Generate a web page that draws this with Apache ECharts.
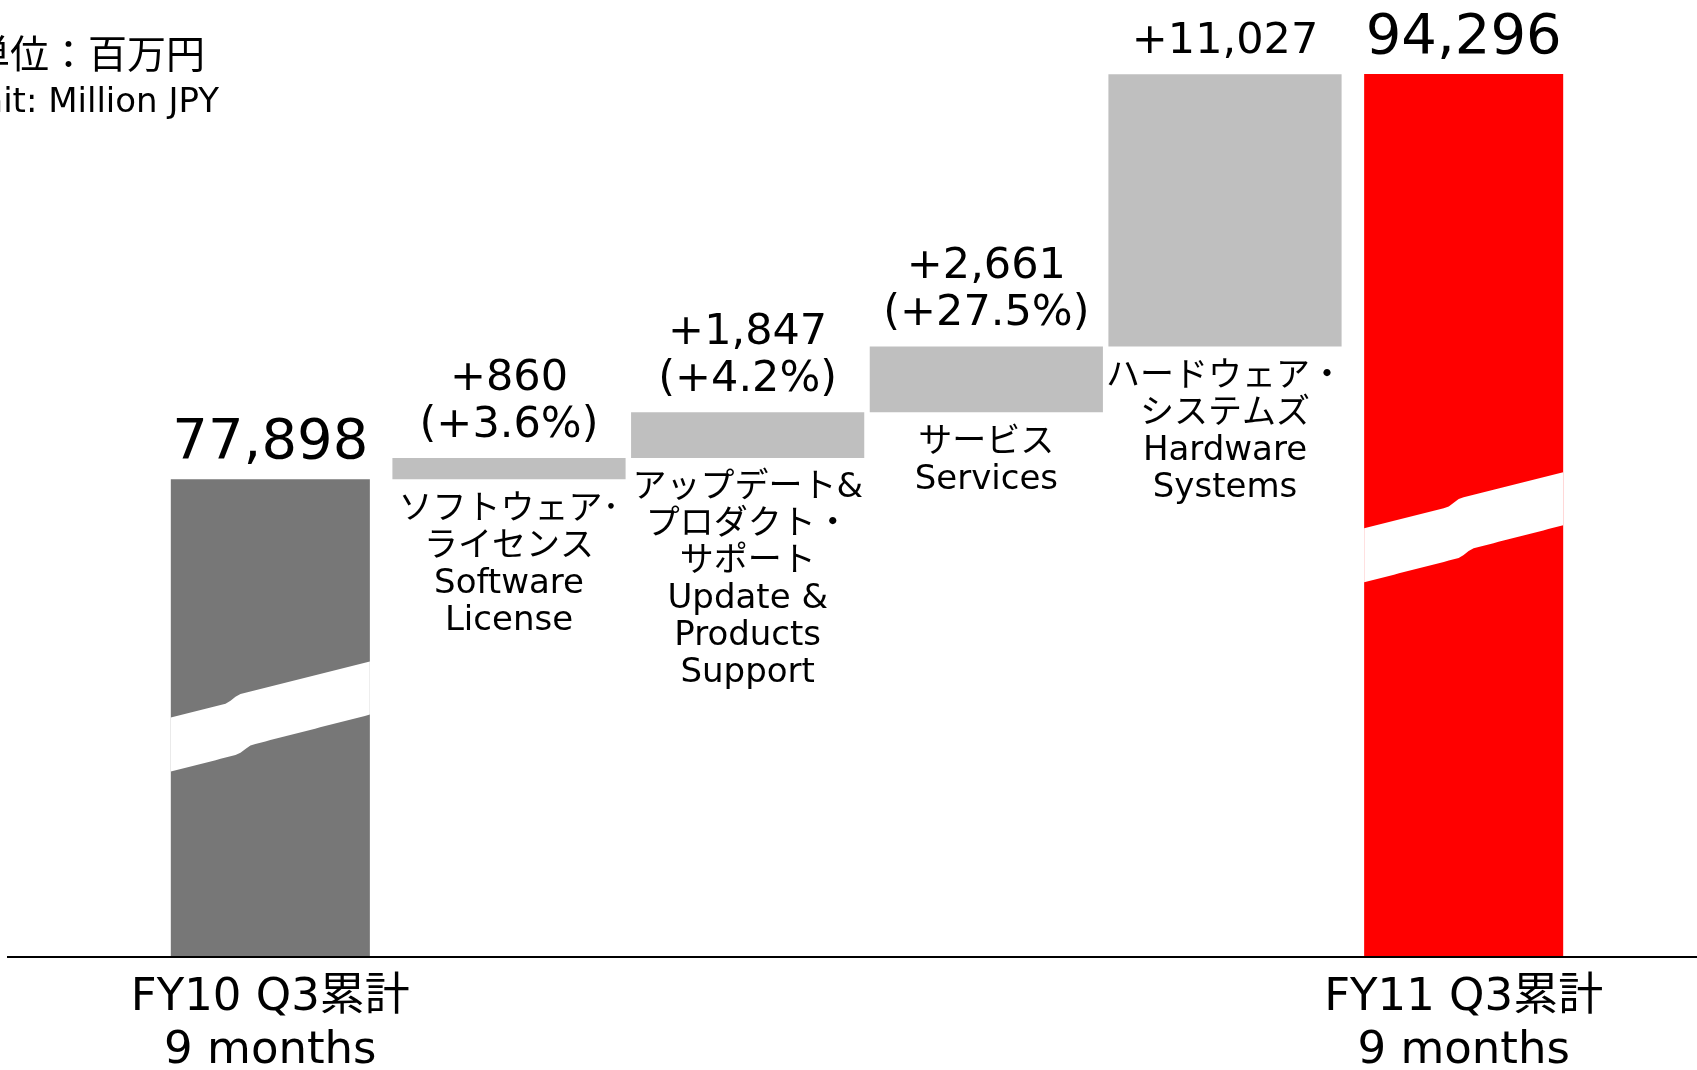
<!DOCTYPE html>
<html>
<head>
<meta charset="utf-8">
<script src="https://cdn.jsdelivr.net/npm/echarts@6.0.0/dist/echarts.min.js"></script>
<style>
  html, body { margin: 0; padding: 0; background: #fff; }
  #main { width: 1697px; height: 1070px; }
</style>
</head>
<body>
<div id="main"></div>
<script>
// 単位：百万円
const categories = [
  'FY10 Q3累計\n9 months',
  'ソフトウェア･\nライセンス\nSoftware\nLicense',
  'アップデート&\nプロダクト・\nサポート\nUpdate &\nProducts\nSupport',
  'サービス\nServices',
  'ハードウェア・\nシステムズ\nHardware\nSystems',
  'FY11 Q3累計\n9 months'
];
const kinds = ['total', 'delta', 'delta', 'delta', 'delta', 'total'];
const values = [77898, 860, 1847, 2661, 11027, 94296];
const growth = ['', '+3.6%', '+4.2%', '+27.5%', '', ''];

const yMin = 58600, yMax = 96000;
const FONT = "'DejaVu Sans', 'Noto Sans CJK JP', sans-serif";
const barColors = ['#777777', '#BFBFBF', '#BFBFBF', '#BFBFBF', '#BFBFBF', '#FF0000'];
// break position (fraction of bar height from top, kink position along bar)
const breaks = { 0: [0.50, 0.31], 5: [0.515, 0.45] };

// waterfall ranges
let run = values[0];
const seriesData = values.map(function (v, i) {
  if (kinds[i] === 'total') return [i, yMin, v];
  const lo = run;
  run += v;
  return [i, lo, run];
});

function fmt(v) { return v.toLocaleString('en-US'); }

function smooth(u) {
  u = Math.max(0, Math.min(1, u));
  return u * u * (3 - 2 * u);
}

function edge(x, w, yL, kink, rise, step) {
  const pts = [];
  for (let k = 0; k <= 40; k++) {
    const t = k / 40;
    pts.push([x + t * w, yL - (rise - step) * t - step * smooth((t - kink) / 0.08 + 0.5)]);
  }
  return pts;
}

function renderItem(params, api) {
  const i = params.dataIndex;
  const p0 = api.coord([api.value(0), api.value(1)]);
  const p1 = api.coord([api.value(0), api.value(2)]);
  const band = api.size([1, 0])[0];
  const isTotal = kinds[i] === 'total';
  const w = band * (isTotal ? 0.834 : 0.977);
  const x = p0[0] - w / 2;
  const yTop = p1[1], yBot = p0[1];
  const children = [{
    type: 'rect',
    shape: { x: x, y: yTop, width: w, height: yBot - yTop },
    style: { fill: barColors[i] }
  }];

  if (breaks[i]) {
    const h = yBot - yTop;
    const yL = yTop + breaks[i][0] * h;
    const upper = edge(x, w, yL, breaks[i][1], 56, 6);
    const lower = edge(x, w, yL + 54, breaks[i][1] + 0.06, 57, 6).reverse();
    children.push({
      type: 'polygon',
      shape: { points: upper.concat(lower) },
      style: { fill: '#fff' }
    });
  }

  const v = values[i];
  const label = isTotal ? fmt(v) : '+' + fmt(v) + (growth[i] ? '\n(' + growth[i] + ')' : '');
  children.push({
    type: 'text',
    x: p0[0],
    y: yTop - (isTotal ? 6 : 9),
    style: {
      text: label,
      fill: '#000',
      fontSize: isTotal ? 56 : 43,
      fontFamily: FONT,
      lineHeight: isTotal ? 60 : 47,
      align: 'center', textAlign: 'center',
      verticalAlign: 'bottom', textVerticalAlign: 'bottom'
    }
  });

  if (!isTotal) {
    children.push({
      type: 'text',
      x: p0[0],
      y: yBot + 12,
      style: {
        text: categories[i],
        fill: '#000',
        fontSize: 34,
        fontFamily: FONT,
        lineHeight: 37,
        align: 'center', textAlign: 'center',
        verticalAlign: 'top', textVerticalAlign: 'top'
      }
    });
  }
  return { type: 'group', children: children };
}

const chart = echarts.init(document.getElementById('main'));
const option = {
  animation: false,
  backgroundColor: '#fff',
  grid: { left: 151, right: 114, top: 32, bottom: 114, containLabel: false, outerBoundsMode: 'none' },
  xAxis: {
    type: 'category',
    data: categories,
    axisLine: { show: false },
    axisTick: { show: false },
    axisLabel: {
      interval: 0,
      margin: 16,
      color: '#000',
      fontSize: 45,
      lineHeight: 53,
      fontFamily: FONT,
      formatter: function (val, idx) { return kinds[idx] === 'total' ? val : ''; }
    }
  },
  yAxis: {
    type: 'value',
    min: yMin,
    max: yMax,
    show: false,
    splitLine: { show: false }
  },
  series: [{
    type: 'custom',
    renderItem: renderItem,
    data: seriesData,
    z: 3
  }]
};
chart.setOption(option);

const baseY = chart.convertToPixel({ gridIndex: 0 }, [0, yMin])[1];
chart.setOption({
  graphic: [
    {
      type: 'line', z: 1,
      shape: { x1: 7, y1: baseY + 1, x2: 1697, y2: baseY + 1 },
      style: { stroke: '#000', lineWidth: 2 }
    },
    {
      type: 'text', x: 205, y: 58,
      style: { text: '単位：百万円', fill: '#000', fontSize: 39, fontFamily: FONT,
        align: 'right', textAlign: 'right', verticalAlign: 'middle', textVerticalAlign: 'middle' }
    },
    {
      type: 'text', x: 219, y: 103,
      style: { text: 'Unit: Million JPY', fill: '#000', fontSize: 34, fontFamily: FONT,
        align: 'right', textAlign: 'right', verticalAlign: 'middle', textVerticalAlign: 'middle' }
    }
  ]
});
</script>
</body>
</html>
